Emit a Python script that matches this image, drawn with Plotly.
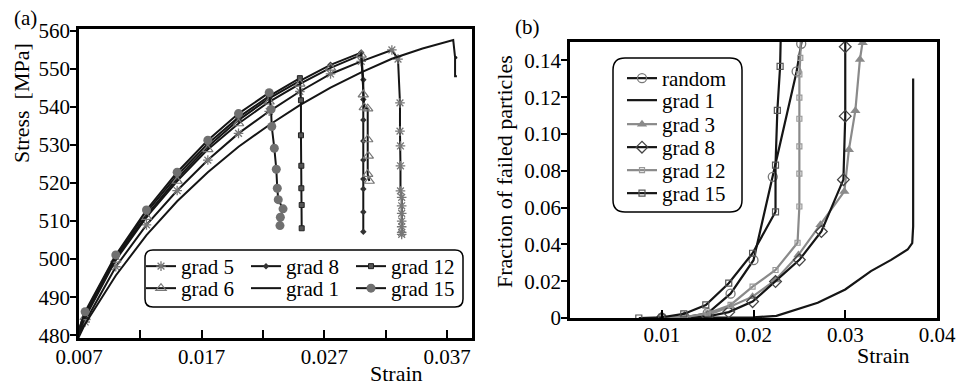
import plotly.graph_objects as go

# ---------------- Panel (a): stress-strain ----------------
a_g5_strain = [0.0066, 0.0075, 0.0100, 0.0125, 0.0150, 0.0175, 0.0200, 0.0225, 0.0250, 0.0275, 0.0300, 0.0325, 0.0330,
               0.03316, 0.03316, 0.0332, 0.0332, 0.0332, 0.0333, 0.0333, 0.0333, 0.0333, 0.0333, 0.0333, 0.0333]
a_g5_stress = [478.0, 483.5, 498.0, 509.0, 518.0, 526.0, 533.0, 538.8, 544.0, 548.6, 551.9, 554.9, 552.5,
               541.0, 533.6, 529.7, 524.5, 517.9, 516.2, 514.0, 512.0, 510.0, 508.5, 507.0, 506.5]

a_g8_strain = [0.0066, 0.0075, 0.0100, 0.0125, 0.0150, 0.0175, 0.0200, 0.0225, 0.0250, 0.0275, 0.0300,
               0.03017, 0.03017, 0.03017, 0.03017, 0.03017, 0.03017, 0.03017, 0.03017, 0.03017]
a_g8_stress = [478.0, 485.0, 500.3, 511.5, 521.2, 529.5, 536.5, 542.2, 546.8, 551.0, 554.2,
               547.1, 541.9, 536.5, 531.0, 526.0, 521.0, 518.4, 512.4, 507.2]

a_g12_strain = [0.0066, 0.0075, 0.0100, 0.0125, 0.0150, 0.0175, 0.0200, 0.0225, 0.0250,
                0.02509, 0.02509, 0.02512, 0.02512, 0.02515, 0.02515]
a_g12_stress = [478.0, 485.8, 500.8, 512.3, 522.0, 530.3, 537.2, 542.8, 547.5,
                541.7, 532.5, 524.5, 518.6, 514.2, 508.1]

a_g6_strain = [0.0066, 0.0075, 0.0100, 0.0125, 0.0150, 0.0175, 0.0200, 0.0225, 0.0250, 0.0275, 0.0300,
               0.03017, 0.03025, 0.03053, 0.03053, 0.03058, 0.03053, 0.03066]
a_g6_stress = [478.0, 484.7, 499.8, 511.0, 520.5, 528.8, 535.6, 541.3, 546.0, 550.2, 553.6,
               543.2, 539.8, 539.5, 531.4, 527.1, 522.3, 520.5]

a_g1_strain = [0.0066, 0.0075, 0.0100, 0.0125, 0.0150, 0.0175, 0.0200, 0.0225, 0.0250, 0.0275, 0.0300,
               0.0325, 0.0350, 0.0375, 0.03765, 0.0378, 0.03765, 0.03765, 0.0378]
a_g1_stress = [477.0, 483.0, 495.7, 506.3, 515.2, 522.8, 529.5, 535.2, 540.4, 545.0, 549.0,
               552.6, 555.3, 557.5, 553.0, 553.0, 552.6, 548.0, 548.0]

a_g15_strain = [0.0066, 0.0075, 0.0100, 0.0125, 0.0150, 0.0175, 0.0200, 0.0225,
                0.02265, 0.02271, 0.02292, 0.02308, 0.02316, 0.02324, 0.02363, 0.02341, 0.02338]
a_g15_stress = [478.0, 486.2, 501.1, 512.9, 522.8, 531.2, 538.2, 543.7,
                539.3, 534.8, 529.1, 523.6, 518.6, 515.6, 513.2, 511.0, 508.8]

a_xticks = [0.007, 0.012, 0.017, 0.022, 0.027, 0.032, 0.037]
a_xticktext = ["0.007", "", "0.017", "", "0.027", "", "0.037"]
a_yticks = [480, 490, 500, 510, 520, 530, 540, 550, 560]

# ---------------- Panel (b): fraction of failed particles ----------------
b_random_strain = [0.0100, 0.0125, 0.0150, 0.0175, 0.0200, 0.0221, 0.0247, 0.0252, 0.0256]
b_random_frac = [0.0, 0.0004, 0.0026, 0.0132, 0.0314, 0.0767, 0.1340, 0.1490, 0.1600]

b_g1_strain = [0.0087, 0.0180, 0.0200, 0.0225, 0.0240, 0.0270, 0.0300, 0.0328, 0.0350, 0.0368, 0.0373, 0.0374, 0.0374]
b_g1_frac = [0.0, 0.0, 0.0003, 0.0012, 0.0035, 0.0083, 0.0155, 0.0255, 0.0316, 0.0372, 0.0407, 0.0497, 0.1302]

b_g3_strain = [0.0100, 0.0125, 0.0150, 0.0175, 0.0199, 0.0224, 0.0249, 0.0273, 0.0299, 0.0304, 0.0311, 0.0316, 0.0319, 0.0322]
b_g3_frac = [0.0, 0.0, 0.0016, 0.0062, 0.0116, 0.0207, 0.0343, 0.0507, 0.0688, 0.0915, 0.1127, 0.1405, 0.1496, 0.1600]

b_g8_strain = [0.0100, 0.0125, 0.0150, 0.0173, 0.0199, 0.0224, 0.0250, 0.0274, 0.0298, 0.0300, 0.0300, 0.0300]
b_g8_frac = [0.0, 0.0, 0.0008, 0.0032, 0.0089, 0.0198, 0.0316, 0.0470, 0.0752, 0.1097, 0.1474, 0.1600]

b_g12_strain = [0.0100, 0.0125, 0.0150, 0.0175, 0.0199, 0.0224, 0.0248, 0.0250, 0.0250, 0.0250, 0.0250,
                0.0250, 0.0250, 0.0251, 0.0252]
b_g12_frac = [0.0, 0.0005, 0.0025, 0.0071, 0.0170, 0.0261, 0.0409, 0.0606, 0.0785, 0.0933, 0.1083,
              0.1198, 0.1324, 0.1414, 0.1600]

b_g15_strain = [0.0075, 0.0100, 0.0124, 0.0148, 0.0173, 0.0199, 0.0224, 0.0224, 0.0226, 0.0229, 0.0230]
b_g15_frac = [0.0, 0.0004, 0.0022, 0.0071, 0.0189, 0.0352, 0.0577, 0.0831, 0.1128, 0.1367, 0.1600]

b_xticks = [0.01, 0.02, 0.03, 0.04]
b_xticktext = ["0.01", "0.02", "0.03", "0.04"]
b_yticks = [0, 0.02, 0.04, 0.06, 0.08, 0.10, 0.12, 0.14]
b_yticktext = ["0", "0.02", "0.04", "0.06", "0.08", "0.10", "0.12", "0.14"]

FONT = "Liberation Serif"
BLACK = "#151515"
GRAY = "#8a8a8a"
W, H = 958, 385

fig = go.Figure(layout=dict(template="none"))

def add_a(x, y, name, legend, marker):
    fig.add_trace(go.Scatter(x=x, y=y, name=name, mode="lines+markers" if marker else "lines",
                             line=dict(color=BLACK, width=2), marker=marker or {},
                             xaxis="x", yaxis="y", legend=legend))

# row 1 of legend (a)
add_a(a_g5_strain, a_g5_stress, "grad 5", "legend",
      dict(symbol="asterisk-open", size=8, color="#777", line=dict(color="#777", width=1.3)))
add_a(a_g8_strain, a_g8_stress, "grad 8", "legend",
      dict(symbol="diamond", size=5, color="#333"))
add_a(a_g12_strain, a_g12_stress, "grad 12", "legend",
      dict(symbol="square", size=5, color="#555", line=dict(color="#222", width=1)))
# row 2 of legend (a)
add_a(a_g6_strain, a_g6_stress, "grad 6", "legend3",
      dict(symbol="triangle-up-open", size=9, color="#777", line=dict(color="#777", width=1.2)))
add_a(a_g1_strain, a_g1_stress, "grad 1", "legend3", None)
add_a(a_g15_strain, a_g15_stress, "grad 15", "legend3",
      dict(symbol="circle", size=9, color="#707070"))

def add_b(x, y, name, color, marker, legend):
    fig.add_trace(go.Scatter(x=x, y=y, name=name, mode="lines+markers" if marker else "lines",
                             line=dict(color=color, width=2.2), marker=marker or {},
                             xaxis="x2", yaxis="y2", legend=legend))

add_b(b_random_strain, b_random_frac, "random", BLACK,
      dict(symbol="circle-open", size=9, color="#777", line=dict(width=1.3)), "legend2")
add_b(b_g1_strain, b_g1_frac, "grad 1", BLACK, None, "legend4")
add_b(b_g3_strain, b_g3_frac, "grad 3", GRAY,
      dict(symbol="triangle-up", size=9, color=GRAY), "legend5")
add_b(b_g8_strain, b_g8_frac, "grad 8", BLACK,
      dict(symbol="diamond-open", size=9, color="#444", line=dict(width=1.3)), "legend6")
add_b(b_g12_strain, b_g12_frac, "grad 12", GRAY,
      dict(symbol="square-open", size=5, color="#999", line=dict(width=1.2)), "legend7")
add_b(b_g15_strain, b_g15_frac, "grad 15", BLACK,
      dict(symbol="square-open", size=6, color="#555", line=dict(width=1.2)), "legend8")

tickfont = dict(family=FONT, size=21, color="black")
axcommon = dict(showline=True, mirror=True, linecolor="black", linewidth=2.5, showgrid=False,
                zeroline=False, tickcolor="black", tickwidth=2, tickfont=tickfont, automargin=False)

def px(x):
    return x / W

def py(y):
    return 1 - y / H

def rounded(x0, y0, x1, y1, r):
    rx, ry = r / W, r / H
    X0, X1 = px(x0), px(x1)
    Y0, Y1 = py(y0), py(y1)  # Y0 top, Y1 bottom
    return (f"M {X0+rx},{Y0} L {X1-rx},{Y0} Q {X1},{Y0} {X1},{Y0-ry} "
            f"L {X1},{Y1+ry} Q {X1},{Y1} {X1-rx},{Y1} L {X0+rx},{Y1} Q {X0},{Y1} {X0},{Y1+ry} "
            f"L {X0},{Y0-ry} Q {X0},{Y0} {X0+rx},{Y0} Z")

legfont = dict(family=FONT, size=21, color="black")

def hleg(top):
    return dict(orientation="h", x=px(141), y=py(top), xanchor="left", yanchor="top",
                bgcolor="rgba(0,0,0,0)", borderwidth=0, font=legfont, entrywidth=60,
                entrywidthmode="pixels", tracegroupgap=0, itemwidth=30)

def vleg(top):
    return dict(orientation="v", x=px(622), y=py(top), xanchor="left", yanchor="top",
                bgcolor="rgba(0,0,0,0)", borderwidth=0, font=legfont, tracegroupgap=0, itemwidth=30)

def ann(text, x, y, size=21, angle=0):
    return dict(text=text, x=px(x), y=py(y), xref="paper", yref="paper", showarrow=False,
                xanchor="center", yanchor="middle", textangle=angle,
                font=dict(family=FONT, size=size, color="black"))

fig.update_layout(
    width=W, height=H, autosize=False,
    margin=dict(l=0, r=0, t=0, b=0, pad=0),
    paper_bgcolor="white", plot_bgcolor="white",
    font=dict(family=FONT, color="black"),
    xaxis=dict(domain=[px(79), px(472)], range=[0.007, 0.03903], tickvals=a_xticks, ticktext=a_xticktext,
               ticks="inside", ticklen=8, anchor="y", ticklabelstandoff=-2, **axcommon),
    yaxis=dict(domain=[py(338), py(29)], range=[479.3, 560.4], tickvals=a_yticks,
               ticks="outside", ticklen=6, anchor="x", ticklabelstandoff=-4, **axcommon),
    xaxis2=dict(domain=[px(570), px(937)], range=[0, 0.04], tickvals=b_xticks, ticktext=b_xticktext,
                ticks="inside", ticklen=8, anchor="y2", ticklabelstandoff=-4, **axcommon),
    yaxis2=dict(domain=[py(318), py(42)], range=[0, 0.15], tickvals=b_yticks, ticktext=b_yticktext,
                ticks="outside", ticklen=6, anchor="x2", ticklabelstandoff=-4, **axcommon),
    legend=hleg(246),
    legend3=hleg(268),
    legend2=vleg(58),
    legend4=vleg(80),
    legend5=vleg(104),
    legend6=vleg(127),
    legend7=vleg(150),
    legend8=vleg(173),
    shapes=[
        dict(type="path", xref="paper", yref="paper", path=rounded(145, 250, 463, 307, 8),
             line=dict(color="black", width=1.5), fillcolor="white", layer="above"),
        dict(type="path", xref="paper", yref="paper", path=rounded(613, 58, 742, 212, 12),
             line=dict(color="black", width=1.5), fillcolor="white", layer="above"),
    ],
    annotations=[
        ann("(a)", 25, 18),
        ann("(b)", 527, 27),
        ann("Stress  [MPa]", 22, 103, 22, -90),
        ann("Fraction of failed particles", 505, 172, 22, -90),
        ann("Strain", 396, 373, 22),
        ann("Strain", 883, 355, 22),
    ],
)

fig.write_html("out.html")
